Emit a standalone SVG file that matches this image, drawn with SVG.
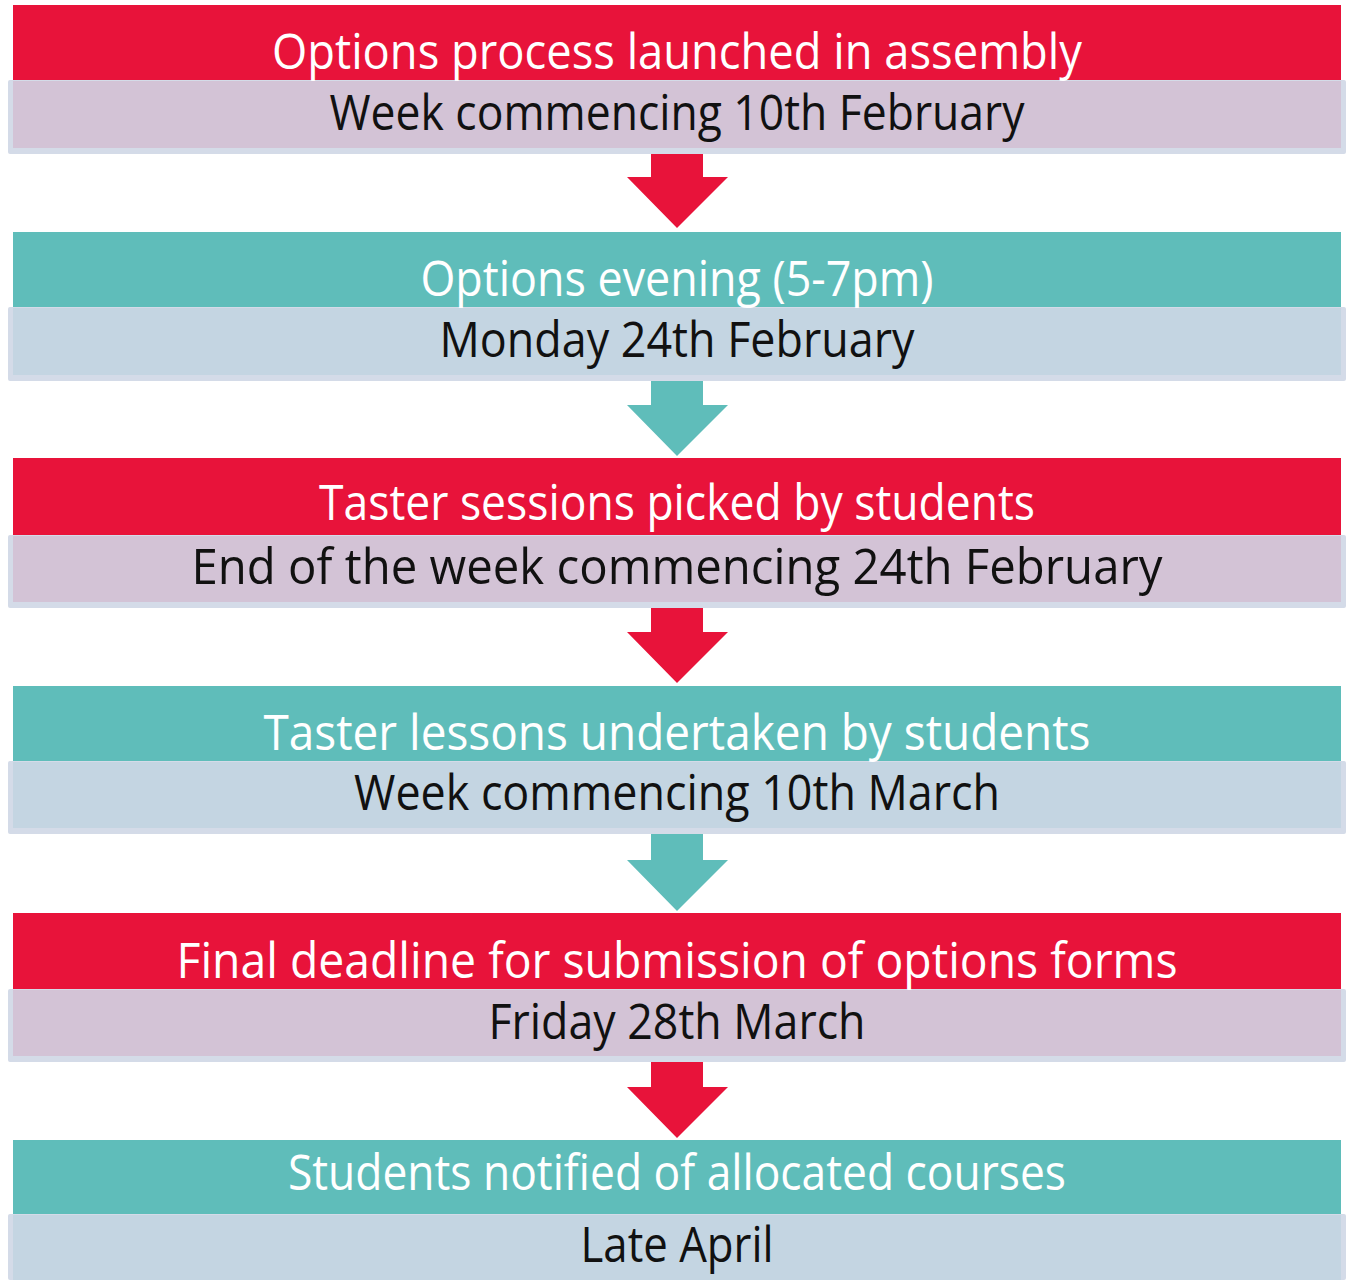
<svg xmlns="http://www.w3.org/2000/svg" width="1346" height="1280" viewBox="0 0 1346 1280">
<style>
.hd-red{fill:#e8133a}
.hd-teal{fill:#5fbdba}
.outer{fill:#d4dbe8}
.in-pur{fill:#d3c3d6}
.in-blu{fill:#c4d5e2}
.ar-red{fill:#e8133a}
.ar-teal{fill:#5fbdba}
text{font-family:"Open Sans","Noto Sans",sans-serif;text-anchor:middle;font-size:49px;font-weight:400}
.ht{fill:#ffffff}
.st{fill:#111111}
</style>
<rect width="1346" height="1280" fill="#ffffff"/>
<g id="connectors">
<path class="ar-red" d="M651,150 H703 V177 H728 L677,228 L627,177 H651 Z"/>
<path class="ar-teal" d="M651,378 H703 V405 H728 L677,456 L627,405 H651 Z"/>
<path class="ar-red" d="M651,606 H703 V632 H728 L677,683 L627,632 H651 Z"/>
<path class="ar-teal" d="M651,833 H703 V860 H728 L677,911 L627,860 H651 Z"/>
<path class="ar-red" d="M651,1060 H703 V1087 H728 L677,1138 L627,1087 H651 Z"/>
</g>
<g id="step1">
<rect class="hd-red" x="13" y="5" width="1328" height="75"/>
<rect class="outer" x="8" y="80" width="1338" height="74" rx="2"/>
<rect class="in-pur" x="13" y="81" width="1328" height="67"/>
<text class="ht" x="677" y="69" textLength="810" lengthAdjust="spacingAndGlyphs">Options process launched in assembly</text>
<text class="st" x="677" y="130" textLength="695" lengthAdjust="spacingAndGlyphs">Week commencing 10th February</text>
</g>
<g id="step2">
<rect class="hd-teal" x="13" y="232" width="1328" height="75"/>
<rect class="outer" x="8" y="307" width="1338" height="74" rx="2"/>
<rect class="in-blu" x="13" y="308" width="1328" height="67"/>
<text class="ht" x="677" y="296" textLength="513" lengthAdjust="spacingAndGlyphs">Options evening (5-7pm)</text>
<text class="st" x="677" y="357" textLength="475" lengthAdjust="spacingAndGlyphs">Monday 24th February</text>
</g>
<g id="step3">
<rect class="hd-red" x="13" y="458" width="1328" height="77"/>
<rect class="outer" x="8" y="535" width="1338" height="73" rx="2"/>
<rect class="in-pur" x="13" y="536" width="1328" height="66"/>
<text class="ht" x="677" y="520" textLength="716" lengthAdjust="spacingAndGlyphs">Taster sessions picked by students</text>
<text class="st" x="677" y="584" textLength="971" lengthAdjust="spacingAndGlyphs">End of the week commencing 24th February</text>
</g>
<g id="step4">
<rect class="hd-teal" x="13" y="686" width="1328" height="75"/>
<rect class="outer" x="8" y="761" width="1338" height="73" rx="2"/>
<rect class="in-blu" x="13" y="762" width="1328" height="66"/>
<text class="ht" x="677" y="750" textLength="827" lengthAdjust="spacingAndGlyphs">Taster lessons undertaken by students</text>
<text class="st" x="677" y="810" textLength="646" lengthAdjust="spacingAndGlyphs">Week commencing 10th March</text>
</g>
<g id="step5">
<rect class="hd-red" x="13" y="913" width="1328" height="76"/>
<rect class="outer" x="8" y="989" width="1338" height="73" rx="2"/>
<rect class="in-pur" x="13" y="990" width="1328" height="66"/>
<text class="ht" x="677" y="978" textLength="1001" lengthAdjust="spacingAndGlyphs">Final deadline for submission of options forms</text>
<text class="st" x="677" y="1039" textLength="377" lengthAdjust="spacingAndGlyphs">Friday 28th March</text>
</g>
<g id="step6">
<rect class="hd-teal" x="13" y="1140" width="1328" height="74"/>
<rect class="outer" x="8" y="1214" width="1338" height="66" rx="2"/>
<rect class="in-blu" x="13" y="1215" width="1328" height="65"/>
<text class="ht" x="677" y="1190" textLength="778" lengthAdjust="spacingAndGlyphs">Students notified of allocated courses</text>
<text class="st" x="677" y="1262" textLength="193" lengthAdjust="spacingAndGlyphs">Late April</text>
</g>
</svg>
